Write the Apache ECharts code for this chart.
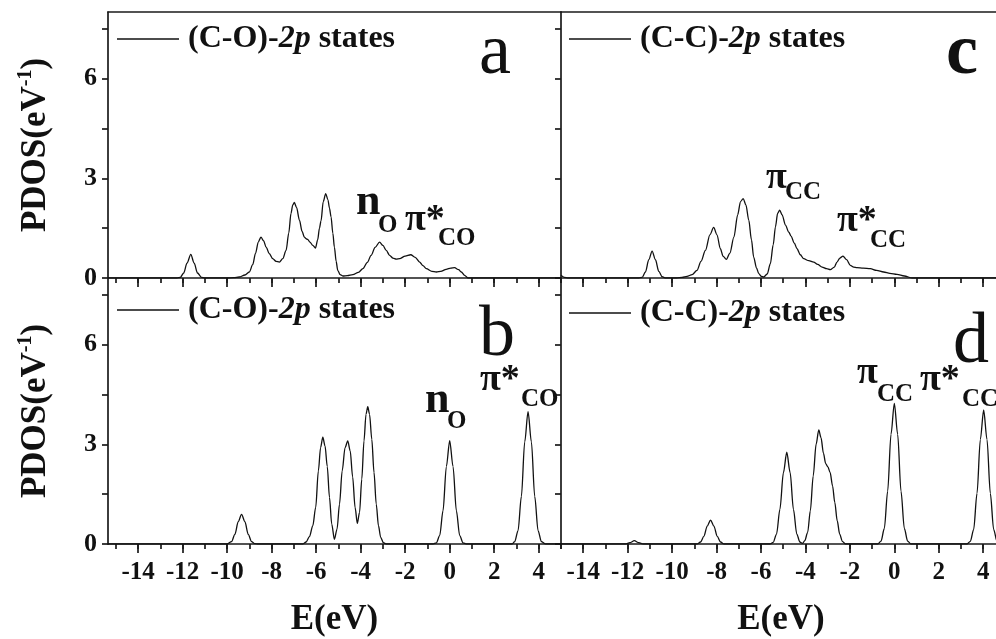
<!DOCTYPE html>
<html>
<head>
<meta charset="utf-8">
<script src="https://cdn.jsdelivr.net/npm/echarts@6.0.0/dist/echarts.min.js"></script>
<style>
  html, body { margin: 0; padding: 0; background: #fff; }
  #chart { width: 996px; height: 639px; }
</style>
</head>
<body>
<div id="chart"></div>
<script>
// PDOS curves, [E (eV), PDOS]
const panelA = [[-15.35,0],[-12.25,0],[-12.1,0.02],[-11.95,0.15],[-11.8,0.45],[-11.63,0.71],[-11.48,0.45],[-11.33,0.15],[-11.15,0.02],[-11.0,0],
  [-10.0,0],[-9.7,0.01],[-9.45,0.03],[-9.2,0.09],[-9.0,0.18],[-8.85,0.4],[-8.72,0.75],[-8.6,1.08],[-8.48,1.23],[-8.36,1.12],[-8.25,0.93],
  [-8.1,0.73],[-7.95,0.58],[-7.8,0.5],[-7.65,0.48],[-7.5,0.58],[-7.35,0.83],[-7.23,1.35],[-7.13,1.94],[-7.05,2.2],[-6.98,2.27],[-6.88,2.12],
  [-6.75,1.74],[-6.63,1.4],[-6.53,1.23],[-6.45,1.18],[-6.38,1.16],[-6.28,1.08],[-6.15,0.98],[-6.03,0.9],[-5.93,1.15],[-5.85,1.5],[-5.78,1.72],
  [-5.68,2.3],[-5.57,2.54],[-5.47,2.35],[-5.4,2.1],[-5.33,1.84],[-5.25,1.35],[-5.18,0.93],[-5.1,0.5],[-5.03,0.23],[-4.92,0.1],[-4.8,0.06],
  [-4.6,0.07],[-4.35,0.1],[-4.1,0.17],[-3.9,0.28],[-3.7,0.47],[-3.53,0.68],[-3.35,0.92],[-3.15,1.08],[-3.0,0.98],[-2.85,0.83],[-2.7,0.68],
  [-2.55,0.6],[-2.4,0.57],[-2.25,0.58],[-2.0,0.66],[-1.75,0.7],[-1.55,0.62],[-1.35,0.48],[-1.2,0.37],[-1.05,0.28],[-0.8,0.2],[-0.6,0.18],
  [-0.4,0.2],[-0.16,0.26],[0.05,0.3],[0.22,0.31],[0.4,0.25],[0.52,0.18],[0.67,0.08],[0.82,0],[5.0,0]];

const panelC = [[-15,0.08],[-14.85,0.02],[-14.7,0],[-11.5,0],[-11.35,0.02],[-11.2,0.18],[-11.05,0.55],[-10.9,0.81],[-10.75,0.55],[-10.6,0.2],
  [-10.45,0.04],[-10.3,0],[-9.8,0],[-9.55,0.02],[-9.33,0.05],[-9.1,0.1],[-8.88,0.23],[-8.7,0.5],[-8.5,0.83],[-8.3,1.3],[-8.13,1.52],[-7.98,1.3],
  [-7.83,0.88],[-7.7,0.65],[-7.56,0.56],[-7.4,0.75],[-7.22,1.23],[-7.05,1.9],[-6.92,2.3],[-6.8,2.39],[-6.68,2.2],[-6.55,1.74],[-6.43,1.15],
  [-6.33,0.63],[-6.2,0.3],[-6.1,0.13],[-5.98,0.05],[-5.88,0.03],[-5.72,0.12],[-5.58,0.43],[-5.45,1.0],[-5.35,1.54],[-5.25,1.95],[-5.16,2.04],
  [-5.05,1.9],[-4.9,1.59],[-4.75,1.38],[-4.65,1.26],[-4.5,1.05],[-4.38,0.88],[-4.23,0.7],[-4.08,0.58],[-3.85,0.52],[-3.63,0.48],[-3.45,0.41],
  [-3.25,0.33],[-3.05,0.28],[-2.88,0.25],[-2.7,0.33],[-2.58,0.48],[-2.45,0.6],[-2.31,0.66],[-2.15,0.55],[-1.98,0.38],[-1.83,0.33],[-1.68,0.31],
  [-1.4,0.3],[-1.08,0.28],[-0.8,0.23],[-0.48,0.18],[-0.2,0.14],[0.12,0.11],[0.45,0.06],[0.8,0],[4.8,0]];

const panelB = [[-15.35,0],[-10.0,0],[-9.8,0.07],[-9.65,0.29],[-9.5,0.67],[-9.35,0.89],[-9.2,0.67],[-9.05,0.29],[-8.9,0.07],[-8.75,0.01],[-8.6,0],
  [-6.6,0],[-6.45,0.06],[-6.3,0.22],[-6.15,0.55],[-6.02,1.1],[-5.9,2.2],[-5.8,2.9],[-5.7,3.21],[-5.6,2.95],[-5.5,2.33],[-5.4,1.4],[-5.3,0.6],
  [-5.18,0.14],[-5.06,0.45],[-4.95,1.2],[-4.83,2.2],[-4.7,2.9],[-4.58,3.1],[-4.47,2.8],[-4.36,2.02],[-4.25,1.1],[-4.15,0.62],[-4.05,0.95],
  [-3.95,1.95],[-3.85,3.1],[-3.76,3.9],[-3.68,4.13],[-3.6,3.9],[-3.5,3.15],[-3.4,2.15],[-3.3,1.2],[-3.2,0.55],[-3.1,0.2],[-2.98,0.04],[-2.85,0],
  [-0.75,0],[-0.6,0.035],[-0.45,0.25],[-0.3,1.0],[-0.15,2.33],[0,3.11],[0.15,2.33],[0.3,1.0],[0.45,0.25],[0.6,0.035],[0.75,0],
  [2.8,0],[2.92,0.07],[3.07,0.4],[3.22,1.43],[3.37,3.07],[3.52,3.98],[3.67,3.07],[3.82,1.43],[3.97,0.4],[4.12,0.07],[4.3,0],[5.0,0]];

const panelD = [[-15,0],[-12.1,0],[-11.9,0.04],[-11.7,0.1],[-11.5,0.04],[-11.3,0],[-8.87,0],[-8.72,0.06],[-8.57,0.23],[-8.42,0.54],[-8.27,0.72],
  [-8.12,0.54],[-7.97,0.23],[-7.82,0.06],[-7.67,0],[-5.6,0],[-5.45,0.05],[-5.3,0.3],[-5.15,1.04],[-4.99,2.15],[-4.84,2.76],[-4.69,2.15],
  [-4.54,1.04],[-4.39,0.3],[-4.25,0.06],[-4.13,0.02],[-4.03,0.1],[-3.9,0.35],[-3.78,1.0],[-3.65,2.05],[-3.52,3.0],[-3.4,3.43],[-3.3,3.2],
  [-3.19,2.73],[-3.09,2.42],[-2.99,2.32],[-2.89,2.15],[-2.78,1.75],[-2.68,1.25],[-2.57,0.7],[-2.46,0.3],[-2.34,0.08],[-2.2,0],
  [-0.75,0],[-0.6,0.085],[-0.45,0.47],[-0.3,1.59],[-0.15,3.3],[0,4.23],[0.15,3.3],[0.3,1.59],[0.45,0.47],[0.6,0.085],[0.75,0],
  [3.27,0],[3.42,0.08],[3.57,0.44],[3.72,1.52],[3.87,3.14],[4.02,4.03],[4.17,3.14],[4.32,1.52],[4.47,0.44],[4.62,0.08],[4.77,0]];

// ticks and labels
const xMajorTicks = [-14, -12, -10, -8, -6, -4, -2, 0, 2, 4];
const xMinorLeft = [-15, -14, -13, -12, -11, -10, -9, -8, -7, -6, -5, -4, -3, -2, -1, 0, 1, 2, 3, 4, 5];
const xMinorRight = [-15, -14, -13, -12, -11, -10, -9, -8, -7, -6, -5, -4, -3, -2, -1, 0, 1, 2, 3, 4];
const yTicks = [0, 1.5, 3, 4.5, 6, 7.5];
const yLabels = [0, 3, 6];

const legendText = {
  a: '{b|(C-O)-}{i|2p}{b| states}',
  b: '{b|(C-O)-}{i|2p}{b| states}',
  c: '{b|(C-C)-}{i|2p}{b| states}',
  d: '{b|(C-C)-}{i|2p}{b| states}'
};

const serif = '"Liberation Serif", "Times New Roman", serif';
const ink = '#111';
const axLine = { color: '#1a1a1a', width: 1.7 };

const leftRange = [-15.35, 5.0];
const rightRange = [-15, 4.8];

function xMain(grid, range, showLabel) {
  return {
    type: 'value', gridIndex: grid, min: range[0], max: range[1], position: 'bottom',
    axisLine: { show: true, onZero: false, lineStyle: axLine },
    axisTick: { show: true, inside: false, length: 9, customValues: xMajorTicks, lineStyle: axLine },
    axisLabel: { show: showLabel, customValues: xMajorTicks, margin: 16, color: ink,
      fontFamily: serif, fontWeight: 'bold', fontSize: 25 },
    splitLine: { show: false },
    name: showLabel ? 'E(eV)' : '', nameLocation: 'middle', nameGap: 58,
    nameTextStyle: { color: ink, fontFamily: serif, fontWeight: 'bold', fontSize: 35 }
  };
}
function xMinor(grid, range, ticks) {
  return {
    type: 'value', gridIndex: grid, min: range[0], max: range[1], position: 'bottom',
    axisLine: { show: false },
    axisTick: { show: true, inside: false, length: 5, customValues: ticks, lineStyle: axLine },
    axisLabel: { show: false }, splitLine: { show: false }
  };
}
function xTop(grid, range) {
  return {
    type: 'value', gridIndex: grid, min: range[0], max: range[1], position: 'top',
    axisLine: { show: true, onZero: false, lineStyle: axLine },
    axisTick: { show: false }, axisLabel: { show: false }, splitLine: { show: false }
  };
}
function yAx(grid, showLabel) {
  return {
    type: 'value', gridIndex: grid, min: 0, max: 8, position: 'left',
    axisLine: { show: true, onZero: false, lineStyle: axLine },
    axisTick: { show: true, inside: false, length: 6, customValues: yTicks, lineStyle: axLine },
    axisLabel: { show: showLabel, customValues: yLabels, margin: 11, color: ink,
      fontFamily: serif, fontWeight: 'bold', fontSize: 26 },
    splitLine: { show: false },
    name: showLabel ? '{m|PDOS(eV}{s|-1}{m|)}' : '', nameLocation: 'middle', nameRotate: 90, nameGap: 52,
    nameTextStyle: {
      color: ink, fontFamily: serif, fontWeight: 'bold', fontSize: 35,
      rich: {
        m: { color: ink, fontFamily: serif, fontWeight: 'bold', fontSize: 35, lineHeight: 40 },
        s: { color: ink, fontFamily: serif, fontWeight: 'bold', fontSize: 20, lineHeight: 22, verticalAlign: 'top' }
      }
    }
  };
}
function legendFor(name, left, top) {
  return {
    data: [name], left: left, top: top, padding: 0, itemGap: 0,
    icon: 'rect', itemWidth: 62, itemHeight: 1.5, selectedMode: false,
    formatter: n => legendText[n],
    textStyle: {
      color: ink, fontFamily: serif, fontSize: 32, fontWeight: 'bold', padding: [0, 0, 0, 4],
      rich: {
        b: { color: ink, fontFamily: serif, fontSize: 32, fontWeight: 'bold' },
        i: { color: ink, fontFamily: serif, fontSize: 32, fontWeight: 'bold', fontStyle: 'italic' }
      }
    }
  };
}
function curve(name, xi, yi, data) {
  return {
    name: name, type: 'line', xAxisIndex: xi, yAxisIndex: yi, data: data,
    showSymbol: false, symbol: 'none', smooth: 0.3, smoothMonotone: 'x',
    color: ink, lineStyle: { color: ink, width: 1.3 }, animation: false
  };
}

// peak labels and panel letters (pixel layout)
const notes = [
  { t: 'n', x: 356, y: 203, s: 44 }, { t: 'O', x: 378, y: 226, s: 25 },
  { t: 'π*', x: 405, y: 220, s: 38 }, { t: 'CO', x: 438, y: 239, s: 25 },
  { t: 'π', x: 766, y: 178, s: 38 }, { t: 'CC', x: 785, y: 193, s: 25 },
  { t: 'π*', x: 837, y: 221, s: 38 }, { t: 'CC', x: 870, y: 241, s: 25 },
  { t: 'n', x: 425, y: 401, s: 44 }, { t: 'O', x: 447, y: 422, s: 25 },
  { t: 'π*', x: 480, y: 380, s: 38 }, { t: 'CO', x: 521, y: 400, s: 25 },
  { t: 'π', x: 857, y: 373, s: 38 }, { t: 'CC', x: 877, y: 395, s: 25 },
  { t: 'π*', x: 920, y: 380, s: 38 }, { t: 'CC', x: 962, y: 400, s: 25 },
  { t: 'a', x: 479, y: 54, s: 72, w: 'normal' }, { t: 'c', x: 946, y: 54, s: 72, w: 'bold' },
  { t: 'b', x: 479, y: 336, s: 72, w: 'normal' }, { t: 'd', x: 953, y: 343, s: 72, w: 'normal' }
];

const chart = echarts.init(document.getElementById('chart'));
chart.setOption({
  backgroundColor: '#fff',
  animation: false,
  grid: [
    { left: 108, top: 12, width: 453, height: 266, containLabel: false, outerBoundsMode: 'none' },
    { left: 561, top: 12, width: 440, height: 266, containLabel: false, outerBoundsMode: 'none' },
    { left: 108, top: 278, width: 453, height: 266, containLabel: false, outerBoundsMode: 'none' },
    { left: 561, top: 278, width: 440, height: 266, containLabel: false, outerBoundsMode: 'none' }
  ],
  xAxis: [
    xMain(0, leftRange, false), xMinor(0, leftRange, xMinorLeft), xTop(0, leftRange),
    xMain(1, rightRange, false), xMinor(1, rightRange, xMinorRight), xTop(1, rightRange),
    xMain(2, leftRange, true), xMinor(2, leftRange, xMinorLeft),
    xMain(3, rightRange, true), xMinor(3, rightRange, xMinorRight)
  ],
  yAxis: [yAx(0, true), yAx(1, false), yAx(2, true), yAx(3, false)],
  legend: [
    legendFor('a', 117, 23), legendFor('c', 569, 23),
    legendFor('b', 117, 294), legendFor('d', 569, 297)
  ],
  series: [
    curve('a', 0, 0, panelA),
    curve('c', 3, 1, panelC),
    curve('b', 6, 2, panelB),
    curve('d', 8, 3, panelD)
  ],
  graphic: notes.map(n => ({
    type: 'text', x: n.x, y: n.y, z: 10,
    style: {
      text: n.t, fill: ink, fontFamily: serif, fontSize: n.s,
      fontWeight: n.w || 'bold', align: 'left', verticalAlign: 'middle'
    }
  }))
});
</script>
</body>
</html>
